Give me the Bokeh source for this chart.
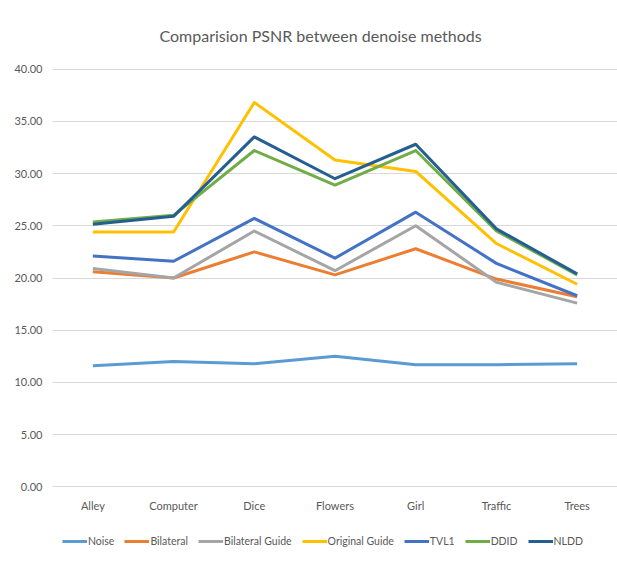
from bokeh.plotting import figure
from bokeh.layouts import column
from bokeh.models import (FactorRange, Range1d, FixedTicker, NumeralTickFormatter,
                          Legend, LegendItem)
from bokeh.embed import file_html
from bokeh.resources import INLINE

categories = ["Alley", "Computer", "Dice", "Flowers", "Girl", "Traffic", "Trees"]
noise = [11.6, 12.0, 11.8, 12.5, 11.7, 11.7, 11.8]
bilateral = [20.6, 20.0, 22.5, 20.3, 22.8, 19.9, 18.2]
bilateral_guide = [20.9, 20.0, 24.5, 20.7, 25.0, 19.6, 17.6]
original_guide = [24.4, 24.4, 36.8, 31.3, 30.2, 23.3, 19.4]
tvl1 = [22.1, 21.6, 25.7, 21.9, 26.3, 21.4, 18.3]
ddid = [25.35, 26.0, 32.2, 28.9, 32.2, 24.5, 20.3]
nldd = [25.15, 25.9, 33.5, 29.5, 32.8, 24.7, 20.4]
y_ticks = [0, 5, 10, 15, 20, 25, 30, 35, 40]

series = [
    ("Noise", noise, "#5B9BD5"),
    ("Bilateral", bilateral, "#ED7D31"),
    ("Bilateral Guide", bilateral_guide, "#A5A5A5"),
    ("Original Guide", original_guide, "#FFC000"),
    ("TVL1", tvl1, "#4472C4"),
    ("DDID", ddid, "#70AD47"),
    ("NLDD", nldd, "#255E91"),
]

FONT = "Lato"
TXT = "#595959"

p = figure(width=617, height=523, output_backend="svg", toolbar_location=None,
           x_range=FactorRange(*categories), y_range=Range1d(-0.05, 40.05),
           min_border_left=52, min_border_right=0, min_border_top=67,
           min_border_bottom=36)

p.title.text = "Comparision PSNR between denoise methods"
p.title.align = "left"
p.title.offset = 107
p.title.standoff = 47
p.title.text_font = FONT
p.title.text_font_size = "16px"
p.title.text_font_style = "normal"
p.title.text_color = TXT

p.outline_line_color = None
p.xgrid.grid_line_color = None
p.ygrid.grid_line_color = "#D9D9D9"
p.ygrid.grid_line_width = 1
p.ygrid.ticker = FixedTicker(ticks=y_ticks)

p.yaxis.ticker = FixedTicker(ticks=y_ticks)
p.yaxis.formatter = NumeralTickFormatter(format="0.00")
for ax in (p.xaxis[0], p.yaxis[0]):
    ax.axis_line_color = None
    ax.major_tick_line_color = None
    ax.minor_tick_line_color = None
    ax.major_tick_out = 0
    ax.major_tick_in = 0
    ax.major_label_text_font = FONT
    ax.major_label_text_font_size = "11px"
    ax.major_label_text_color = TXT
p.yaxis.major_label_standoff = 10
p.xaxis.major_label_standoff = 11

for name, vals, col in series:
    p.line(categories, vals, line_color=col, line_width=3, line_join="round")

# legend strip below the chart (its lines sit outside its view; only the legend shows)
lg = figure(width=617, height=38, output_backend="svg", toolbar_location=None,
            x_range=FactorRange(*categories), y_range=Range1d(100, 101),
            x_axis_location=None, y_axis_location=None,
            min_border_left=0, min_border_right=0, min_border_top=0,
            min_border_bottom=0)
lg.outline_line_color = None
lg.xgrid.grid_line_color = None
lg.ygrid.grid_line_color = None
items = []
for name, vals, col in series:
    r = lg.line(categories, vals, line_color=col, line_width=3)
    items.append(LegendItem(label=name, renderers=[r]))
legend = Legend(items=items, orientation="horizontal", location=(10, 12),
                glyph_width=25, glyph_height=16, label_height=16,
                label_standoff=1, spacing=10, padding=0, margin=0,
                border_line_color=None, background_fill_alpha=0,
                label_text_font=FONT, label_text_font_size="10.5px",
                label_text_color=TXT)
lg.add_layout(legend, "center")

layout = column(p, lg, spacing=0)
open("out.html", "w").write(file_html(layout, INLINE))
